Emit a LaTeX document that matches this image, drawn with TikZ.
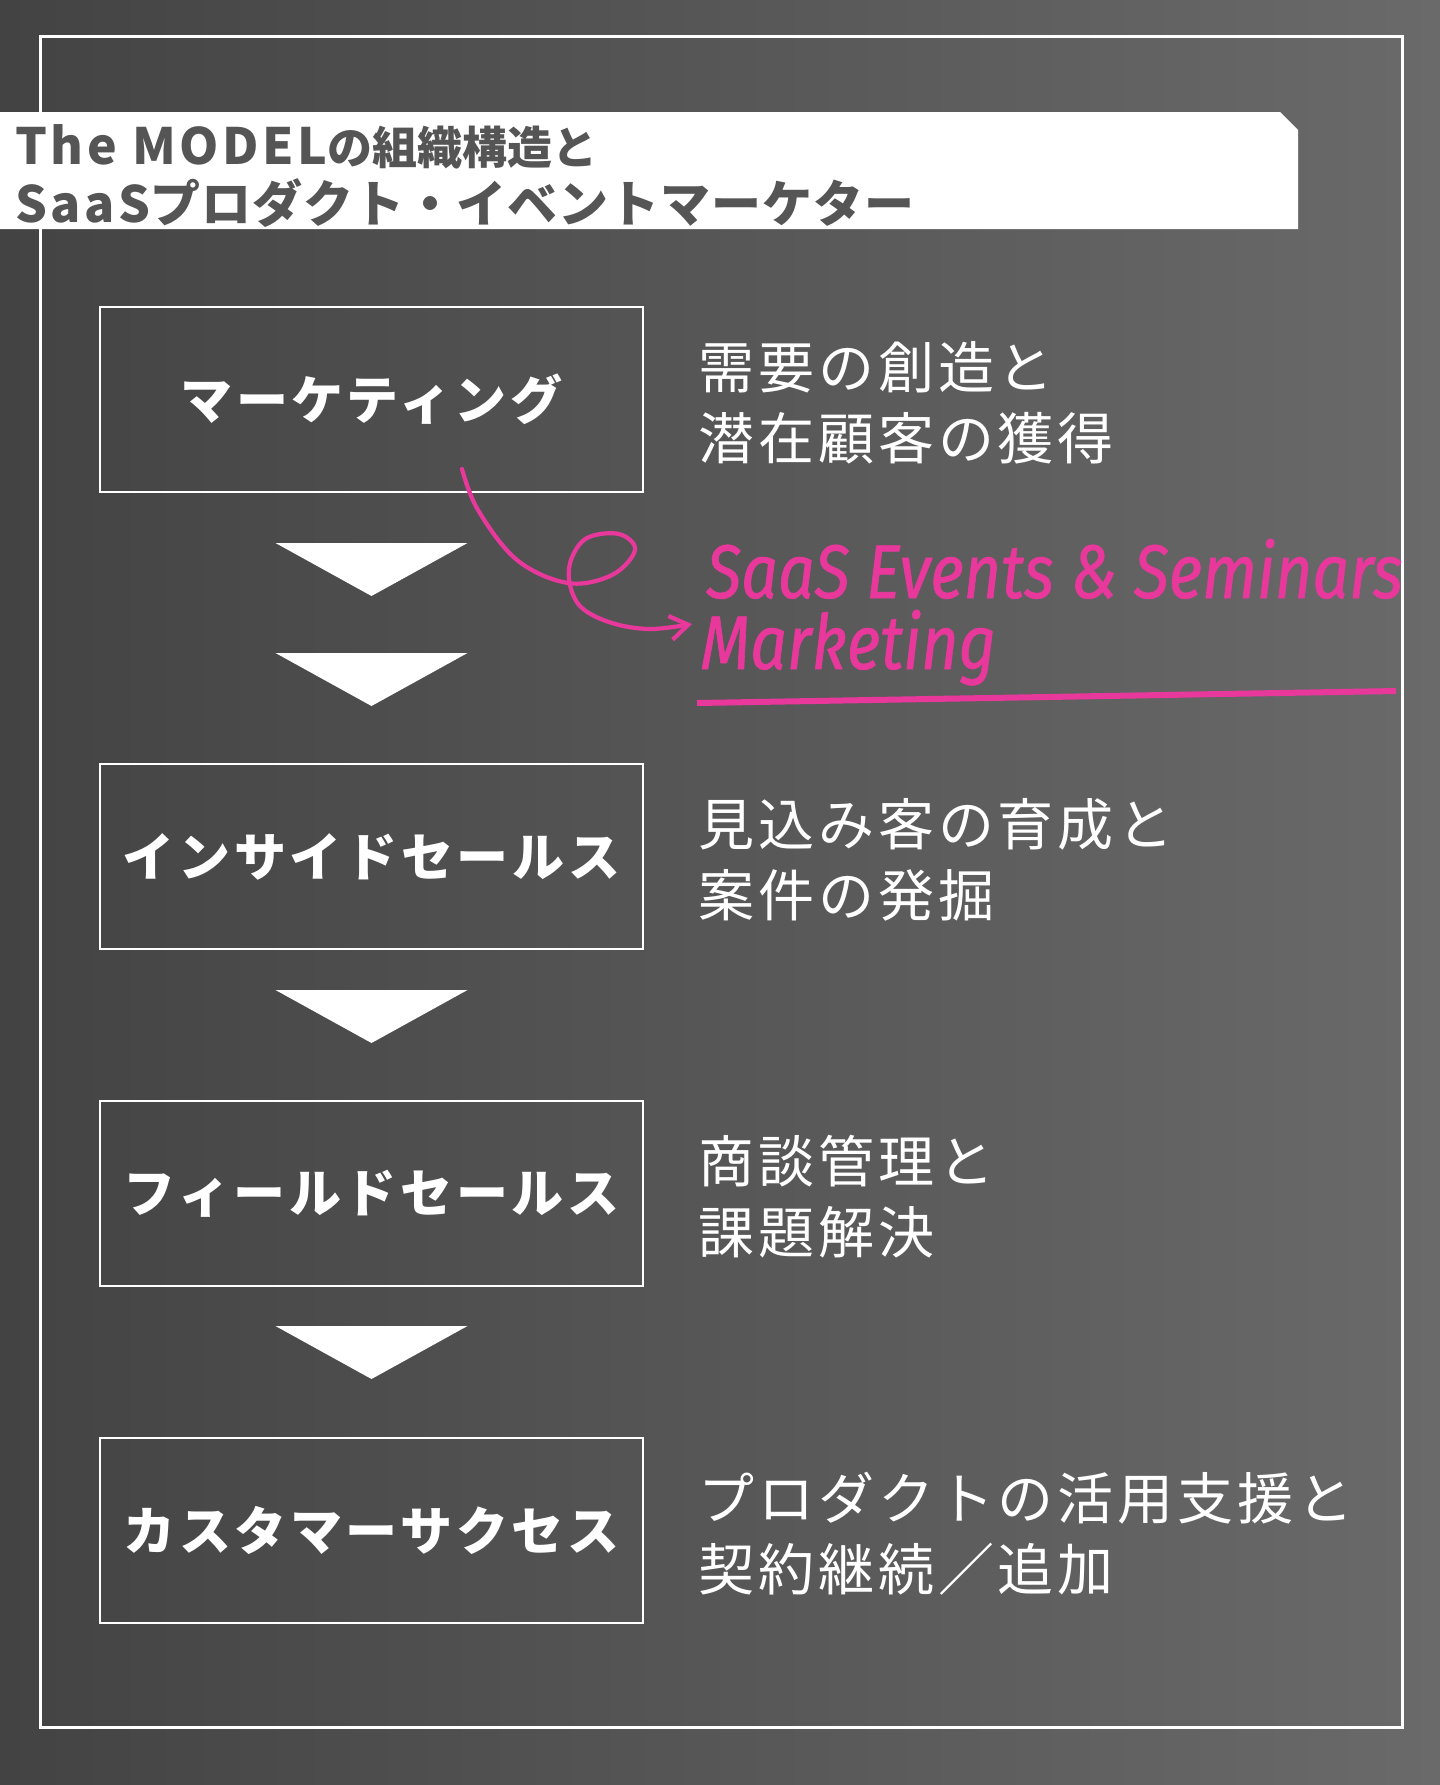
\documentclass[tikz,border=0pt]{standalone}
\usepackage{fontspec}
\setmainfont{Noto Sans CJK JP}
\newfontfamily\titlefont{Noto Sans CJK JP}[LetterSpace=2]
\newfontfamily\titletight{Noto Sans CJK JP}
\newfontfamily\titlelatin{Noto Sans CJK JP}[LetterSpace=7]
\newfontfamily\boxfont{Noto Sans CJK JP}[LetterSpace=7]
\newfontfamily\notefont{Noto Sans CJK JP}[LetterSpace=7]
\newfontfamily\handfont{Fira Sans}[FakeStretch=0.85, FakeBold=0.8]
\usepackage{xcolor}
\usetikzlibrary{positioning}
\usetikzlibrary{arrows.meta}
\usetikzlibrary{calc}
\definecolor{pinkmark}{HTML}{E8389B}
\definecolor{titlegray}{HTML}{555555}
\definecolor{bgleft}{HTML}{434343}
\definecolor{bgright}{HTML}{6A6A6A}

\begin{document}
\begin{tikzpicture}[
		x=0.5pt, y=-0.5pt,
		% Style definitions
		stagebox/.style={draw=white, line width=1.2pt, outer sep=0pt, minimum width=271.5pt, minimum height=92.5pt, inner sep=0pt, text=white, font=\boxfont\bfseries\fontsize{26pt}{30pt}\selectfont},
		notetext/.style={text=white, align=left, inner sep=0pt, font=\notefont\fontsize{28pt}{35.5pt}\selectfont},
		titletext/.style={text=titlegray, inner sep=0pt, anchor=base west, font=\titlefont\bfseries\fontsize{25pt}{29pt}\selectfont},
		handtext/.style={text=pinkmark, inner sep=0pt, anchor=base west, font=\handfont\itshape\fontsize{38pt}{44pt}\selectfont},
		downtri/.style={fill=white},
		pinkarrow/.style={draw=pinkmark, line width=2.1pt, line cap=round, -{Straight Barb[length=9pt, width=12pt]}},
		% Uniform spacing
		node distance=136pt and 27.5pt,
		]
		\useasboundingbox (0,0) rectangle (1440,1785);

		% Background and frame
		\shade[left color=bgleft, right color=bgright] (0,0) rectangle (1440,1785);
		\draw[white, line width=1.5pt] (40,36) rectangle (1402,1727);

		% Title banner
		\fill[white] (0,112) -- (1280,112) -- (1298,130) -- (1298,229) -- (0,229) -- cycle;
		\node[titletext] (title1) at (15,164) {{\titlelatin\bfseries The MODEL}{\titletight\bfseries\fontsize{22.5pt}{29pt}\selectfont の組織構造と}};
		\node[titletext] (title2) at (15,222) {{\titlelatin\bfseries SaaS}プロダクト・イベントマーケター};

		% Column: stages (top to bottom)
		\node[stagebox] (mkt) at (371.5,399.5) {マーケティング};
		\node[stagebox, below=of mkt] (isales) {インサイドセールス};
		\node[stagebox, below=76pt of isales] (fsales) {フィールドセールス};
		\node[stagebox, below=76pt of fsales] (cs) {カスタマーサクセス};

		% Down markers between stages
		\fill[downtri] ($(mkt.south)+(-96,51)$) -- ++(192,0) -- ++(-96,53) -- cycle;
		\fill[downtri] ($(isales.north)+(-96,-111)$) -- ++(192,0) -- ++(-96,53) -- cycle;
		\fill[downtri] ($(isales.south)+(-96,41)$) -- ++(192,0) -- ++(-96,53) -- cycle;
		\fill[downtri] ($(fsales.south)+(-96,40)$) -- ++(192,0) -- ++(-96,53) -- cycle;

		% Descriptions (right of each stage)
		\node[notetext, right=of mkt, yshift=-1.5pt] (mktnote) {需要の創造と\\潜在顧客の獲得};
		\node[notetext, right=of isales, yshift=-1.5pt] (isalesnote) {見込み客の育成と\\案件の発掘};
		\node[notetext, right=of fsales, yshift=-1.5pt] (fsalesnote) {商談管理と\\課題解決};
		\node[notetext, right=of cs, yshift=-1.5pt] (csnote) {プロダクトの活用支援と\\契約継続／追加};

		% Handwritten highlight
		\node[handtext] (saas) at (706,598) {SaaS Events \& Seminars};
		\node[handtext] (saasmkt) at (700,669) {Marketing};
		\coordinate (lineleft) at (697,703);
		\coordinate (lineright) at (1396,691);
		\draw[pinkmark, line width=3pt] (lineleft) -- (lineright);

		% Loop arrow from marketing to highlight
		\coordinate (loopstart) at (462,469);
		\coordinate (loopend) at (692,624);
		\draw[pinkarrow] plot[smooth, tension=0.6] coordinates {(loopstart) (478,510) (517,560) (568,583) (612,575) (635,550) (619,534) (587,538) (571,560) (570,585) (582,608) (612,623) (650,629) (loopend)};

	\end{tikzpicture}
\end{document}
